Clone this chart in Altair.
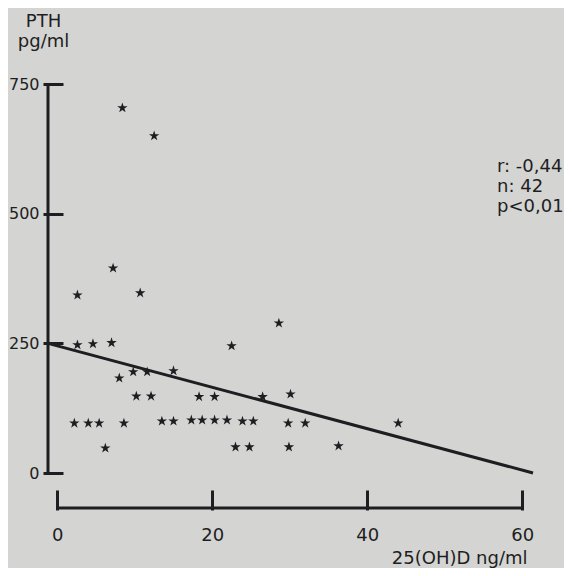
import altair as alt
import pandas as pd

# 25(OH)D (ng/ml) and PTH (pg/ml)
vitd = [8.4, 12.5, 7.2, 2.6, 10.7, 28.6, 22.5, 2.6, 4.6, 7.0,
        8.0, 9.8, 11.6, 15.0, 10.2, 12.1, 18.3, 20.3, 26.5, 30.1,
        2.2, 4.0, 5.4, 8.6, 6.2, 13.5, 15.0, 17.3, 18.7, 20.3,
        21.9, 23.9, 25.3, 29.8, 32.0, 23.0, 24.8, 29.9, 44.0, 36.3]
pth = [704, 650, 395, 343, 347, 289, 245, 247, 249, 251,
       183, 195, 195, 197, 148, 148, 147, 147, 147, 152,
       96, 96, 96, 96, 48, 100, 100, 102, 102, 102,
       102, 100, 100, 96, 96, 50, 50, 50, 96, 52]

# regression line end points
reg_x = [-1.2, 61.4]
reg_y = [250, 0]

x_ticks = [0, 20, 40, 60]
y_ticks = [0, 250, 500, 750]
stats_lines = ["r: -0,44", "n: 42", "p<0,01"]

FONT = "DejaVu Sans"
INK = "#1e1e22"
STAR = "M0,-1L0.2245,-0.309L0.951,-0.309L0.363,0.118L0.588,0.809L0,0.382L-0.588,0.809L-0.363,0.118L-0.951,-0.309L-0.2245,-0.309Z"

pts = pd.DataFrame({"x": vitd, "y": pth})
reg = pd.DataFrame({"x": reg_x, "y": reg_y})

xs = alt.Scale(domain=[-1.2, 61.4], nice=False, zero=False)
ys = alt.Scale(domain=[0, 750], nice=False)

xaxis = alt.Axis(values=x_ticks, orient="bottom", offset=17, domain=False, grid=False,
                 tickSize=20, tickWidth=3, tickColor=INK, labelPadding=16,
                 labelFont=FONT, labelFontSize=18, labelColor=INK,
                 title="25(OH)D ng/ml", titleFont=FONT, titleFontSize=18,
                 titleFontWeight="normal", titleColor=INK, titleAnchor="end",
                 titleAlign="right", titleX=479, titleY=73, titleBaseline="alphabetic")
yaxis = alt.Axis(values=y_ticks, orient="left", offset=-15, domain=False, grid=False,
                 tickSize=20, tickWidth=3, tickColor=INK, labelPadding=4,
                 labelFont=FONT, labelFontSize=16, labelColor=INK,
                 title=["PTH", "pg/ml"], titleAngle=0, titleFont=FONT, titleFontSize=18,
                 titleFontWeight="normal", titleColor=INK, titleAlign="center",
                 titleBaseline="alphabetic", titleX=-20, titleY=-58, titleLineHeight=20)

points = alt.Chart(pts).mark_point(shape=STAR, filled=True, size=120, color=INK, opacity=1).encode(
    x=alt.X("x:Q", scale=xs, axis=xaxis),
    y=alt.Y("y:Q", scale=ys, axis=yaxis),
)

line = alt.Chart(reg).mark_line(color=INK, strokeWidth=3).encode(
    x=alt.X("x:Q", scale=xs), y=alt.Y("y:Q", scale=ys)
)

yline = alt.Chart(pd.DataFrame({"y": [0], "y2": [750]})).mark_rule(color=INK, strokeWidth=3).encode(
    x=alt.value(0), y=alt.Y("y:Q", scale=ys), y2="y2:Q"
)

xline = alt.Chart(pd.DataFrame({"x": [0], "x2": [60]})).mark_rule(color=INK, strokeWidth=3).encode(
    x=alt.X("x:Q", scale=xs), x2="x2:Q", y=alt.value(424)
)

stats = alt.Chart(pd.DataFrame({"a": [0]})).mark_text(
    align="left", baseline="alphabetic", font=FONT, fontSize=18, color=INK, lineHeight=20
).encode(x=alt.value(449), y=alt.value(88), text=alt.value(stats_lines))

chart = alt.layer(yline, xline, line, points, stats).properties(
    width=485, height=389,
    autosize=alt.AutoSizeParams(type="none"),
    padding={"left": 40, "top": 76, "right": 31, "bottom": 95},
    background="#d4d4d2",
).configure_view(stroke=None)

chart.save("out.html", embed_options={"renderer": "svg", "actions": False})
